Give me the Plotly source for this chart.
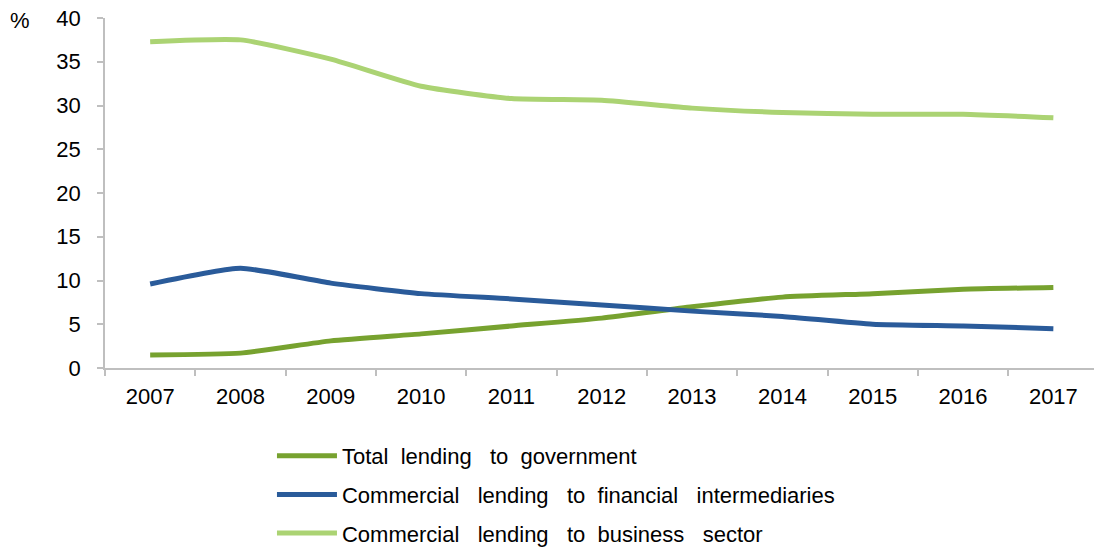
import plotly.graph_objects as go

years = ["2007", "2008", "2009", "2010", "2011", "2012", "2013", "2014", "2015", "2016", "2017"]
government = [1.5, 1.7, 3.1, 3.9, 4.8, 5.7, 7.0, 8.1, 8.5, 9.0, 9.2]
financial = [9.6, 11.4, 9.7, 8.5, 7.9, 7.2, 6.5, 5.9, 5.0, 4.8, 4.5]
business = [37.3, 37.5, 35.3, 32.2, 30.8, 30.6, 29.7, 29.2, 29.0, 29.0, 28.6]
names = ["Total  lending   to  government",
         "Commercial   lending   to  financial   intermediaries",
         "Commercial   lending   to  business   sector"]
colors = ["#77A22F", "#2A5B9A", "#ABD373"]
y_ticks = [0, 5, 10, 15, 20, 25, 30, 35, 40]

fig = go.Figure()
for i, (vals, name, col) in enumerate(zip([government, financial, business], names, colors)):
    fig.add_trace(go.Scatter(
        x=years, y=vals, name=name, mode="lines",
        line=dict(color=col, width=5, shape="spline", smoothing=0.5),
        legendgroup=f"g{i}",
    ))

axis_col = "#BFBFBF"
fig.update_layout(
    width=1094, height=550,
    margin=dict(l=105, r=0, t=18, b=182, autoexpand=False),
    paper_bgcolor="white", plot_bgcolor="white",
    font=dict(family="Liberation Sans, Arial, sans-serif", size=22, color="#000000"),
    showlegend=True,
    legend=dict(
        orientation="v", xref="container", yref="container",
        x=0.2486, xanchor="left", y=0.209, yanchor="top",
        font=dict(size=22), tracegroupgap=7, itemwidth=60,
        bgcolor="rgba(0,0,0,0)",
    ),
    xaxis=dict(
        type="category", showgrid=False, showline=True, linecolor=axis_col, linewidth=1.5,
        ticks="outside", ticklen=6, tickcolor=axis_col, tickwidth=1.5,
        tickson="boundaries", range=[-0.5, 10.45], fixedrange=True,
        ticklabelstandoff=8, automargin=False,
    ),
    yaxis=dict(
        range=[0, 40], tickvals=y_ticks, showgrid=False, zeroline=False,
        showline=True, linecolor=axis_col, linewidth=1.5,
        ticks="outside", ticklen=6, tickcolor=axis_col, tickwidth=1.5,
        ticklabelstandoff=12, automargin=False,
    ),
    annotations=[dict(text="%", xref="paper", yref="paper", x=-0.086, y=0.994,
                      xanchor="center", yanchor="middle", showarrow=False,
                      font=dict(size=22))],
)

fig.write_html("out.html", config={"displayModeBar": False},
               post_script="document.body.style.margin='0px';")
